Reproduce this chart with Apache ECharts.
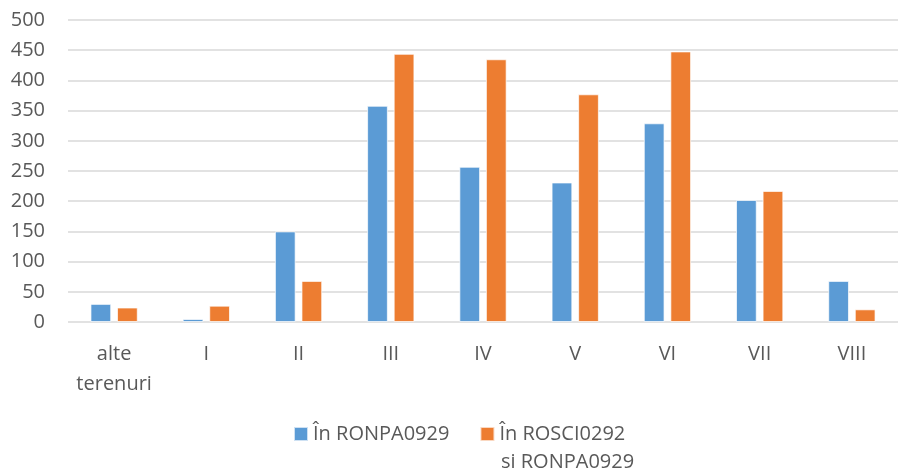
<!DOCTYPE html>
<html><head><meta charset="utf-8">
<script src="https://cdn.jsdelivr.net/npm/echarts@6/dist/echarts.min.js"></script>
<style>html,body{margin:0;padding:0;background:#fff}#c{width:898px;height:473px}</style>
</head><body><div id="c"></div>
<script>
const categories = ['alte\nterenuri','I','II','III','IV','V','VI','VII','VIII'];
const seriesNames = ['În RONPA0929','În ROSCI0292'];
const legendSecondLine = 'si RONPA0929';
const valuesRONPA = [30,5,150,358,257,231,329,202,68];
const valuesROSCI = [24,27,68,444,435,377,448,217,21];
const yTicks = {min:0,max:500,interval:50};

const font = '"Open Sans", sans-serif';
const chart = echarts.init(document.getElementById('c'));
chart.setOption({
  animation:false,
  grid:{left:68,top:20,width:839,bottom:151},
  legend:{
    data:seriesNames, left:293, top:424, padding:0,
    itemWidth:14, itemHeight:14, itemGap:30, icon:'rect',
    textStyle:{color:'#595959',fontSize:20,fontFamily:font}
  },
  graphic:[{type:'text',left:501,top:452,style:{text:legendSecondLine,fill:'#595959',fontSize:20,fontFamily:font}}],
  xAxis:{type:'category',data:categories,
    axisLine:{show:false},axisTick:{show:false},
    axisLabel:{color:'#595959',fontSize:20,fontFamily:font,margin:17,lineHeight:30,interval:0}},
  yAxis:{type:'value',min:yTicks.min,max:yTicks.max,interval:yTicks.interval,
    axisLine:{show:false},axisTick:{show:false},
    splitLine:{lineStyle:{color:'#d9d9d9',width:1.5}},
    axisLabel:{color:'#595959',fontSize:20,fontFamily:font,margin:23}},
  series:[
    {name:seriesNames[0],type:'bar',data:valuesRONPA,barWidth:'22.5%',barGap:'28%',
     itemStyle:{color:'#5B9BD5',borderColor:'rgba(255,255,255,0.7)',borderWidth:1}},
    {name:seriesNames[1],type:'bar',data:valuesROSCI,barWidth:'22.5%',barGap:'28%',
     itemStyle:{color:'#ED7D31',borderColor:'rgba(255,255,255,0.7)',borderWidth:1}}
  ]
});
</script></body></html>
